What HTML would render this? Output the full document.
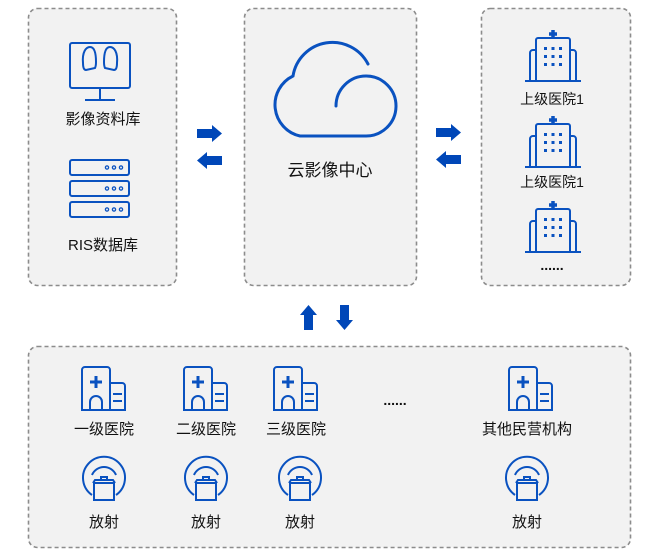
<!DOCTYPE html>
<html><head><meta charset="utf-8"><style>
html,body{margin:0;padding:0;background:#fff;}
svg{display:block}
text{font-family:"Liberation Sans","Noto Sans CJK SC",sans-serif;fill:#111;}
</style></head><body>
<svg width="660" height="559" viewBox="0 0 660 559" xmlns="http://www.w3.org/2000/svg">
<defs>
<g id="hosp" fill="none" stroke="#0a52c0" stroke-width="2">
  <path d="M0,43 V3 a3,3 0 0 1 3,-3 H25 a3,3 0 0 1 3,3 V43 Z"/>
  <path d="M28,16 H40 a3,3 0 0 1 3,3 V43 H28"/>
  <path d="M31,27 H40 M31,34 H40"/>
  <path d="M8,43 V35 a6,6 0 0 1 12,0 V43"/>
  <path d="M14,9 V21 M8,15 H20" stroke-width="3"/>
</g>
<g id="scan" fill="none" stroke="#0a52c0" stroke-width="2">
  <path d="M-12,18 A21,21 0 1 1 12,18"/>
  <path d="M-12,-2 A13,13 0 0 1 12,-2"/>
  <path d="M-10,6 H10 V23 H-10 Z"/>
  <path d="M-11,6 L-9,3 H9 L11,6"/>
  <path d="M-3,3 V0 H3 V3"/>
</g>
<g id="tall" fill="none" stroke="#0a52c0" stroke-width="2">
  <path d="M-28,51 H28"/>
  <path d="M-17,51 V10 a2,2 0 0 1 2,-2 H15 a2,2 0 0 1 2,2 V51"/>
  <path d="M-17,20 H-20 a3,3 0 0 0 -3,3 V51 M17,20 H20 a3,3 0 0 1 3,3 V51"/>
  <path d="M0,0 V8 M-4,4 H4" stroke-width="3.5"/>
  <g fill="#0a52c0" stroke="none">
    <rect x="-9" y="17" width="3" height="3"/><rect x="-1.5" y="17" width="3" height="3"/><rect x="6" y="17" width="3" height="3"/>
    <rect x="-9" y="25" width="3" height="3"/><rect x="-1.5" y="25" width="3" height="3"/><rect x="6" y="25" width="3" height="3"/>
    <rect x="-9" y="33" width="3" height="3"/><rect x="-1.5" y="33" width="3" height="3"/><rect x="6" y="33" width="3" height="3"/>
  </g>
</g>
<g id="arrR" fill="#0047b8"><path d="M0,4 H15 V0 L25,8.5 L15,17 V13 H0 Z"/></g>
</defs>

<g fill="#f2f2f2" stroke="#8c8c8c" stroke-width="1.6" stroke-dasharray="4,3">
  <rect x="28.5" y="8.5" width="148" height="277" rx="9"/>
  <rect x="244.5" y="8.5" width="172" height="277" rx="9"/>
  <rect x="481.5" y="8.5" width="149" height="277" rx="9"/>
  <rect x="28.5" y="346.5" width="602" height="201" rx="9"/>
</g>

<!-- left box -->
<g fill="none" stroke="#0a52c0" stroke-width="2">
  <rect x="70" y="43" width="60" height="45" rx="2"/>
  <path d="M100,88 V100 M85,100 H115"/>
  <path d="M83,63 C82,52 86,47 90,47 C95,47 96,55 96,62 C96,66 95,68 95,68 L86,70 C84,70 83,68 83,63 Z"/>
  <path d="M117,63 C118,52 114,47 110,47 C105,47 104,55 104,62 C104,66 105,68 105,68 L114,70 C116,70 117,68 117,63 Z"/>
  <rect x="70" y="160" width="59" height="15" rx="2"/>
  <rect x="70" y="181" width="59" height="15" rx="2"/>
  <rect x="70" y="202" width="59" height="15" rx="2"/>
</g>
<g fill="none" stroke="#0a52c0" stroke-width="1.3">
  <circle cx="107" cy="167.5" r="1.6"/><circle cx="114" cy="167.5" r="1.6"/><circle cx="121" cy="167.5" r="1.6"/>
  <circle cx="107" cy="188.5" r="1.6"/><circle cx="114" cy="188.5" r="1.6"/><circle cx="121" cy="188.5" r="1.6"/>
  <circle cx="107" cy="209.5" r="1.6"/><circle cx="114" cy="209.5" r="1.6"/><circle cx="121" cy="209.5" r="1.6"/>
</g>
<text x="103" y="124" font-size="15" text-anchor="middle">影像资料库</text>
<text x="103" y="250" font-size="15" text-anchor="middle">RIS数据库</text>

<!-- cloud -->
<g fill="none" stroke="#0a52c0" stroke-width="3" stroke-linecap="round">
  <path d="M368,64 A40,40 0 0 0 293,76 A32,32 0 0 0 300,136 H365 A30,30 0 1 0 336,106"/>
</g>
<text x="330" y="176" font-size="17" text-anchor="middle">云影像中心</text>

<!-- arrows -->
<use href="#arrR" x="197" y="125"/>
<use href="#arrR" transform="translate(222,169) rotate(180)"/>
<use href="#arrR" x="436" y="124"/>
<use href="#arrR" transform="translate(461,168) rotate(180)"/>
<use href="#arrR" transform="translate(300,330) rotate(-90)"/>
<use href="#arrR" transform="translate(353,305) rotate(90)"/>

<!-- right box -->
<use href="#tall" x="553" y="30"/>
<text x="552" y="104" font-size="14" text-anchor="middle">上级医院1</text>
<use href="#tall" x="553" y="116"/>
<text x="552" y="187" font-size="14" text-anchor="middle">上级医院1</text>
<use href="#tall" x="553" y="201"/>
<text x="552" y="270" font-size="14" text-anchor="middle" font-weight="bold">......</text>

<!-- bottom -->
<use href="#hosp" x="82" y="367"/>
<use href="#hosp" x="184" y="367"/>
<use href="#hosp" x="274" y="367"/>
<use href="#hosp" x="509" y="367"/>
<text x="104" y="434" font-size="15" text-anchor="middle">一级医院</text>
<text x="206" y="434" font-size="15" text-anchor="middle">二级医院</text>
<text x="296" y="434" font-size="15" text-anchor="middle">三级医院</text>
<text x="395" y="405" font-size="14" text-anchor="middle" font-weight="bold">......</text>
<text x="527" y="434" font-size="15" text-anchor="middle">其他民营机构</text>
<use href="#scan" x="104" y="477"/>
<use href="#scan" x="206" y="477"/>
<use href="#scan" x="300" y="477"/>
<use href="#scan" x="527" y="477"/>
<text x="104" y="527" font-size="15" text-anchor="middle">放射</text>
<text x="206" y="527" font-size="15" text-anchor="middle">放射</text>
<text x="300" y="527" font-size="15" text-anchor="middle">放射</text>
<text x="527" y="527" font-size="15" text-anchor="middle">放射</text>
</svg>
</body></html>
